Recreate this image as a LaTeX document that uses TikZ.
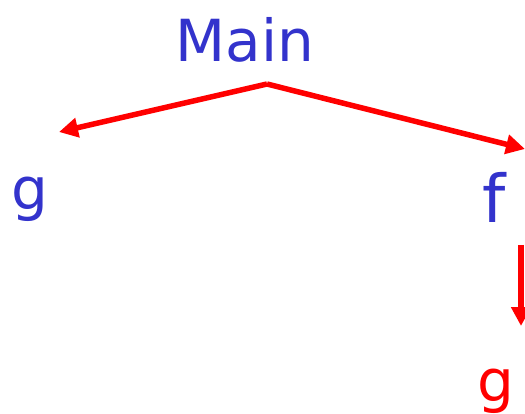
\documentclass[tikz,border=0pt]{standalone}
\usepackage{fontspec}
\setmainfont{DejaVu Sans}
\usetikzlibrary{arrows.meta}
\definecolor{txtblue}{RGB}{51,51,204}
\definecolor{arrred}{RGB}{255,0,0}
\tikzset{
  lbl/.style={inner sep=0pt, anchor=base, font=\fontsize{58}{60}\selectfont},
  conn/.style={draw=arrred, line width=5.5pt, line join=miter,
    -{Triangle[length=19pt,width=19pt]}}
}
\begin{document}
\begin{tikzpicture}[x=1pt,y=-1pt]
\useasboundingbox (0,0) rectangle (525,414);
\node[lbl, text=txtblue] (main) at (245,62) {Main};
\node[lbl, text=txtblue] (gl) at (30,210) {g};
\node[lbl, text=txtblue, font=\fontsize{66}{68}\selectfont] (f) at (494,223) {f};
\node[lbl, text=arrred] (gr) at (496,401) {g};
\coordinate (apex) at (267,84);
\coordinate (tl) at (59,132);
\coordinate (tr) at (525,149);
\coordinate (vt) at (521,245);
\coordinate (vb) at (521,326);
\draw[conn] (apex) -- (tl);
\draw[conn] (apex) -- (tr);
\draw[conn] (vt) -- (vb);
\end{tikzpicture}
\end{document}
